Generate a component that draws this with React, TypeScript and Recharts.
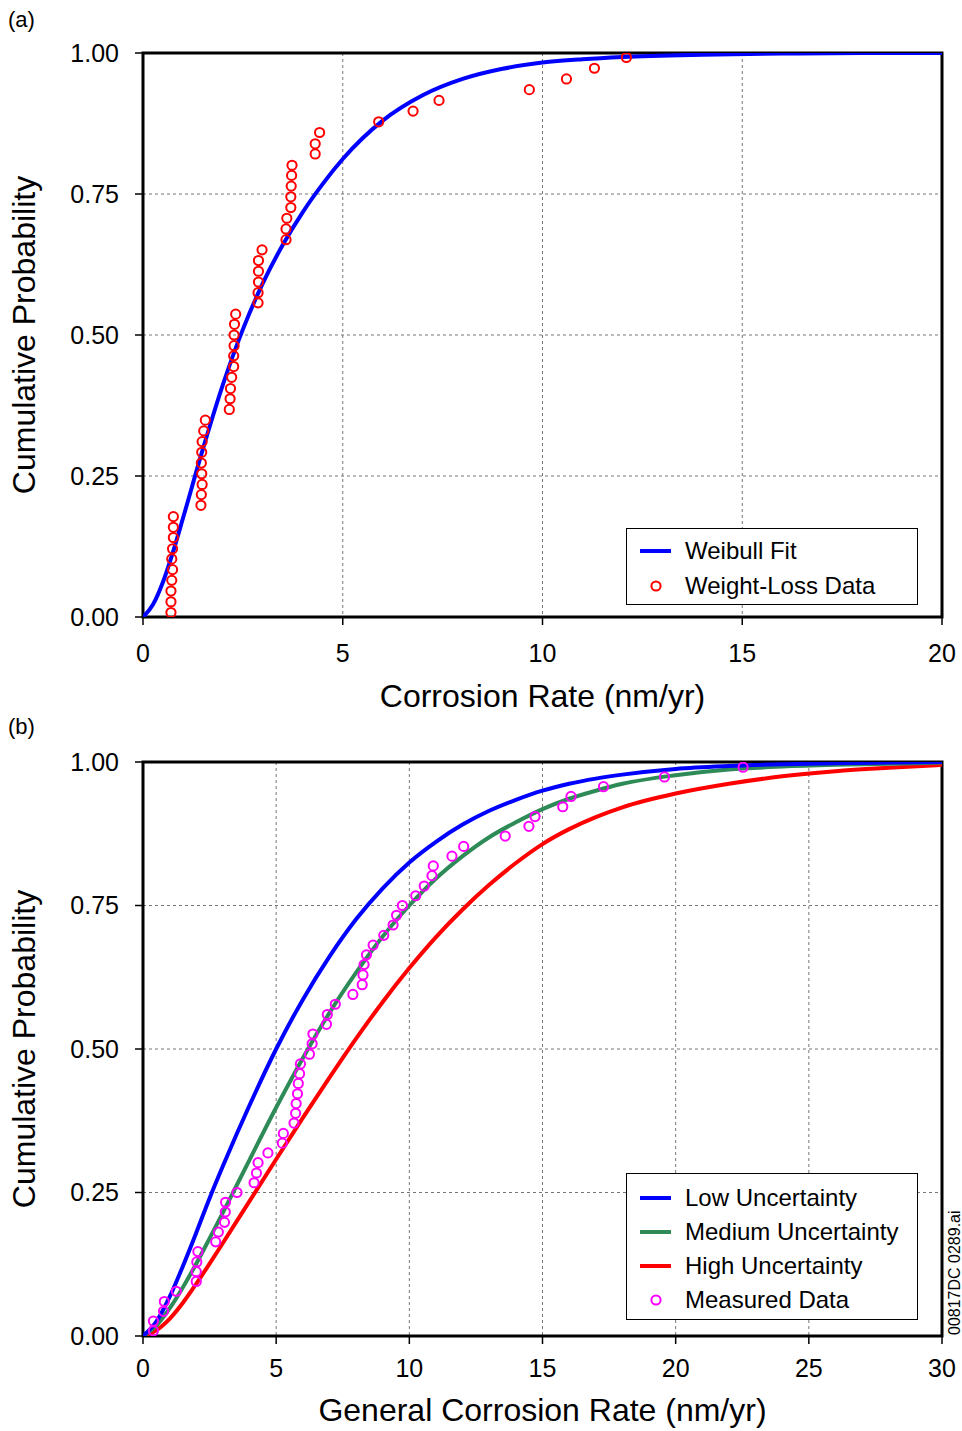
import React from 'react';
import {
  ComposedChart, Line, Scatter, XAxis, YAxis, CartesianGrid, Legend, ReferenceArea,
} from 'recharts';

const FONT = '"Liberation Sans", Arial, sans-serif';

// (a) Weibull fit and weight-loss data
const fitRate = [0, 0.25, 0.5, 0.75, 1, 1.5, 2, 2.5, 3, 3.5, 4, 4.5, 5, 6, 7, 8, 9, 10, 11, 12, 14, 16, 18, 20];
const fitProb = [0, 0.022, 0.062, 0.115, 0.175, 0.298, 0.412, 0.51, 0.592, 0.66, 0.718, 0.768, 0.812, 0.88, 0.925, 0.954, 0.972, 0.983, 0.989, 0.993, 0.997, 0.999, 1, 1];

const lossRate = [
  0.7, 0.7, 0.7, 0.72, 0.74, 0.72, 0.74, 0.76, 0.76, 0.76,
  1.45, 1.46, 1.48, 1.47, 1.46, 1.47, 1.48, 1.52, 1.56,
  2.16, 2.18, 2.19, 2.22, 2.27, 2.27, 2.28, 2.28, 2.29, 2.32,
  2.88, 2.88, 2.89, 2.89, 2.89, 2.98,
  3.58, 3.58, 3.6, 3.7, 3.7, 3.71, 3.72, 3.73,
  4.31, 4.31, 4.42,
  5.9, 6.76, 7.41, 9.67, 10.6, 11.3, 12.1,
];
const lossProb = [
  0.008, 0.027, 0.046, 0.065, 0.084, 0.103, 0.121, 0.141, 0.159, 0.178,
  0.198, 0.217, 0.235, 0.254, 0.273, 0.292, 0.311, 0.33, 0.349,
  0.368, 0.387, 0.405, 0.425, 0.444, 0.463, 0.481, 0.5, 0.519, 0.537,
  0.557, 0.575, 0.594, 0.613, 0.632, 0.651,
  0.669, 0.688, 0.707, 0.726, 0.745, 0.764, 0.783, 0.801,
  0.821, 0.839, 0.859,
  0.878, 0.897, 0.916, 0.935, 0.954, 0.973, 0.992,
];
const rateTicksA = [0, 5, 10, 15, 20];

// (b) uncertainty cases and measured data
const curveRate = [0, 0.5, 1, 1.5, 2, 2.5, 3, 4, 5, 6, 7, 8, 9, 10, 11, 12, 13, 14, 15, 16, 17, 18, 20, 22, 24, 26, 28, 30];
const lowProb = [0, 0.025, 0.068, 0.122, 0.18, 0.24, 0.296, 0.402, 0.5, 0.586, 0.661, 0.726, 0.78, 0.825, 0.861, 0.891, 0.915, 0.934, 0.95, 0.962, 0.971, 0.978, 0.988, 0.993, 0.996, 0.998, 0.999, 1];
const mediumProb = [0, 0.018, 0.048, 0.085, 0.126, 0.17, 0.215, 0.307, 0.398, 0.484, 0.563, 0.633, 0.696, 0.75, 0.797, 0.836, 0.869, 0.895, 0.918, 0.936, 0.95, 0.962, 0.977, 0.987, 0.992, 0.995, 0.997, 0.999];
const highProb = [0, 0.01, 0.03, 0.058, 0.091, 0.126, 0.162, 0.235, 0.308, 0.38, 0.45, 0.518, 0.582, 0.641, 0.695, 0.743, 0.786, 0.824, 0.857, 0.883, 0.904, 0.921, 0.945, 0.962, 0.975, 0.984, 0.99, 0.995];

const measuredRate = [
  0.39, 0.39, 0.77, 0.8, 1.25, 2.0, 2.0, 2.02, 2.06, 2.73, 2.83, 3.06, 3.09, 3.1, 3.53,
  4.17, 4.26, 4.32, 4.69, 5.23, 5.27, 5.67, 5.73, 5.75, 5.8, 5.83, 5.88, 5.91,
  6.25, 6.35, 6.38, 6.89, 6.92, 7.22, 7.88, 8.23, 8.26, 8.3, 8.39, 8.64, 9.04,
  9.39, 9.52, 9.74, 10.24, 10.56, 10.85, 10.9, 11.6, 12.04, 13.6, 14.49, 14.72,
  15.76, 16.07, 17.29, 19.58, 22.53,
];
const measuredProb = [
  0.009, 0.026, 0.043, 0.06, 0.078, 0.095, 0.112, 0.129, 0.147, 0.164, 0.181, 0.198, 0.216, 0.233, 0.25,
  0.267, 0.284, 0.302, 0.319, 0.336, 0.353, 0.371, 0.388, 0.405, 0.422, 0.44, 0.457, 0.474,
  0.491, 0.509, 0.526, 0.543, 0.56, 0.578, 0.595, 0.612, 0.629, 0.647, 0.664, 0.681, 0.698,
  0.716, 0.733, 0.75, 0.767, 0.784, 0.802, 0.819, 0.836, 0.853, 0.871, 0.888, 0.905,
  0.922, 0.94, 0.957, 0.974, 0.991,
];
const rateTicksB = [0, 5, 10, 15, 20, 25, 30];
const probTicks = [0, 0.25, 0.5, 0.75, 1];

const toPoints = (xs: number[], ys: number[]) => xs.map((rate, i) => ({ rate, prob: ys[i] }));

const ring = (color: string) => (props: any) => (
  <circle cx={props.cx} cy={props.cy} r={4.6} fill="none" stroke={color} strokeWidth={2} />
);

type Entry = { name: string; color: string; kind: 'line' | 'ring' };

const LegendBox = ({ entries, height, rowTop, rowGap }: { entries: Entry[]; height: number; rowTop: number; rowGap: number }) => (
  <div style={{
    width: 292, height, boxSizing: 'border-box', border: '1.5px solid #000', background: '#fff',
    position: 'relative', fontFamily: FONT, fontSize: 24, color: '#000',
  }}>
    {entries.map((e, i) => (
      <div key={e.name} style={{ position: 'absolute', left: 0, top: rowTop + i * rowGap - 15, height: 30, display: 'flex', alignItems: 'center' }}>
        <svg width={58} height={30}>
          {e.kind === 'line'
            ? <line x1={13} x2={44} y1={15} y2={15} stroke={e.color} strokeWidth={4} />
            : <circle cx={29} cy={15} r={4.6} fill="none" stroke={e.color} strokeWidth={2} />}
        </svg>
        <span style={{ lineHeight: '30px', whiteSpace: 'nowrap' }}>{e.name}</span>
      </div>
    ))}
  </div>
);

const tickStyle = { fontSize: 25, fill: '#000', fontFamily: FONT };
const titleStyle = { fontSize: 32, fill: '#000', fontFamily: FONT };
const fmt = (v: number) => v.toFixed(2);

const legendA: Entry[] = [
  { name: 'Weibull Fit', color: '#0000ff', kind: 'line' },
  { name: 'Weight-Loss Data', color: '#ff0000', kind: 'ring' },
];
const legendB: Entry[] = [
  { name: 'Low Uncertainty', color: '#0000ff', kind: 'line' },
  { name: 'Medium Uncertainty', color: '#2e8b57', kind: 'line' },
  { name: 'High Uncertainty', color: '#ff0000', kind: 'line' },
  { name: 'Measured Data', color: '#ff00ff', kind: 'ring' },
];

export default function App() {
  return (
    <div style={{ position: 'absolute', left: 0, top: 0, width: 962, height: 1431, background: '#fff', fontFamily: FONT }}>
      <div style={{ position: 'absolute', left: 0, top: 0 }}>
        <ComposedChart width={962} height={720} margin={{ top: 53, right: 20, bottom: 11, left: 0 }}>
          <CartesianGrid stroke="#777" strokeDasharray="3 3" />
          <XAxis
            type="number" dataKey="rate" domain={[0, 20]} ticks={rateTicksA} allowDataOverflow
            height={92} axisLine={false} tickSize={8} tickMargin={19}
            tickLine={{ stroke: '#000', strokeWidth: 1.5 }} tick={tickStyle}
            label={{ value: 'Corrosion Rate (nm/yr)', position: 'insideBottom', offset: 2, style: titleStyle }}
          />
          <YAxis
            type="number" dataKey="prob" domain={[0, 1]} ticks={probTicks} allowDataOverflow
            width={143} axisLine={false} tickSize={8} tickMargin={16} tickFormatter={fmt}
            tickLine={{ stroke: '#000', strokeWidth: 1.5 }} tick={tickStyle}
            label={{ value: 'Cumulative Probability', angle: -90, position: 'insideLeft', offset: 24, style: { ...titleStyle, textAnchor: 'middle' } }}
          />
          <ReferenceArea x1={0} x2={20} y1={0} y2={1} fill="none" stroke="#000" strokeWidth={3} ifOverflow="visible" />
          <Line
            data={toPoints(fitRate, fitProb)} dataKey="prob" name="Weibull Fit" type="monotone"
            stroke="#0000ff" strokeWidth={4} dot={false} isAnimationActive={false}
          />
          <Scatter
            data={toPoints(lossRate, lossProb)} dataKey="prob" name="Weight-Loss Data"
            shape={ring('#ff0000')} isAnimationActive={false}
          />
          <Legend
            layout="vertical" align="center" verticalAlign="middle"
            wrapperStyle={{ left: 626, top: 528, width: 292, height: 77 }}
            content={() => <LegendBox entries={legendA} height={77} rowTop={22} rowGap={35} />}
          />
        </ComposedChart>
      </div>

      <div style={{ position: 'absolute', left: 0, top: 709 }}>
        <ComposedChart width={962} height={722} margin={{ top: 53, right: 20, bottom: 0, left: 0 }}>
          <CartesianGrid stroke="#777" strokeDasharray="3 3" />
          <XAxis
            type="number" dataKey="rate" domain={[0, 30]} ticks={rateTicksB} allowDataOverflow
            height={95} axisLine={false} tickSize={8} tickMargin={15}
            tickLine={{ stroke: '#000', strokeWidth: 1.5 }} tick={tickStyle}
            label={{ value: 'General Corrosion Rate (nm/yr)', position: 'insideBottom', offset: 10, style: titleStyle }}
          />
          <YAxis
            type="number" dataKey="prob" domain={[0, 1]} ticks={probTicks} allowDataOverflow
            width={143} axisLine={false} tickSize={8} tickMargin={16} tickFormatter={fmt}
            tickLine={{ stroke: '#000', strokeWidth: 1.5 }} tick={tickStyle}
            label={{ value: 'Cumulative Probability', angle: -90, position: 'insideLeft', offset: 24, style: { ...titleStyle, textAnchor: 'middle' } }}
          />
          <ReferenceArea x1={0} x2={30} y1={0} y2={1} fill="none" stroke="#000" strokeWidth={3} ifOverflow="visible" />
          <Line
            data={toPoints(curveRate, highProb)} dataKey="prob" name="High Uncertainty" type="monotone"
            stroke="#ff0000" strokeWidth={4} dot={false} isAnimationActive={false}
          />
          <Line
            data={toPoints(curveRate, mediumProb)} dataKey="prob" name="Medium Uncertainty" type="monotone"
            stroke="#2e8b57" strokeWidth={4} dot={false} isAnimationActive={false}
          />
          <Line
            data={toPoints(curveRate, lowProb)} dataKey="prob" name="Low Uncertainty" type="monotone"
            stroke="#0000ff" strokeWidth={4} dot={false} isAnimationActive={false}
          />
          <Scatter
            data={toPoints(measuredRate, measuredProb)} dataKey="prob" name="Measured Data"
            shape={ring('#ff00ff')} isAnimationActive={false}
          />
          <Legend
            layout="vertical" align="center" verticalAlign="middle"
            wrapperStyle={{ left: 626, top: 464, width: 292, height: 147 }}
            content={() => <LegendBox entries={legendB} height={147} rowTop={24} rowGap={34} />}
          />
        </ComposedChart>
      </div>

      <svg width={962} height={1431} style={{ position: 'absolute', left: 0, top: 0, pointerEvents: 'none' }}>
        <text x={8} y={27} fontSize={22} fontFamily={FONT} fill="#000">(a)</text>
        <text x={8} y={734} fontSize={22} fontFamily={FONT} fill="#000">(b)</text>
        <text x={0} y={0} fontSize={16} fontFamily={FONT} fill="#000" transform="translate(960 1335) rotate(-90)">00817DC 0289.ai</text>
      </svg>
    </div>
  );
}
